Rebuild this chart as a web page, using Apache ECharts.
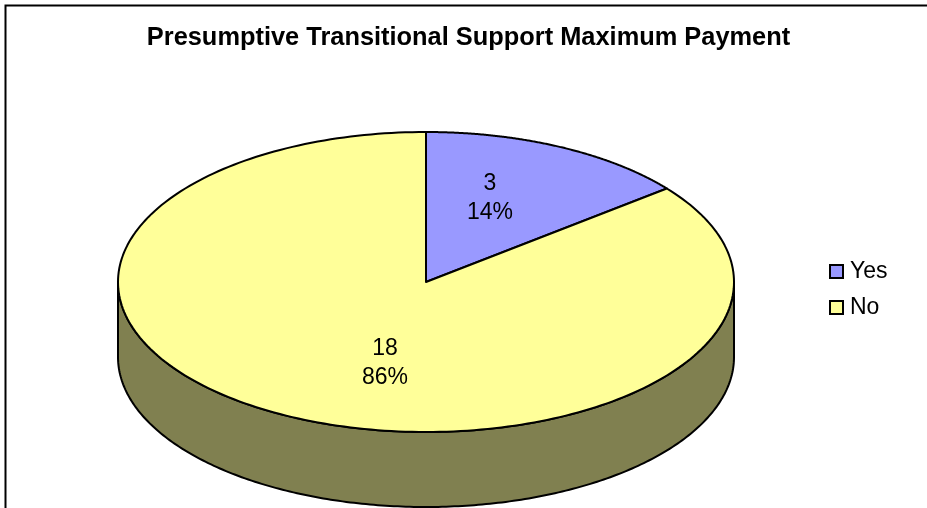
<!DOCTYPE html>
<html>
<head>
<meta charset="utf-8">
<title>Presumptive Transitional Support Maximum Payment</title>
<script src="https://cdn.jsdelivr.net/npm/echarts@6/dist/echarts.min.js"></script>
<style>
  html, body { margin: 0; padding: 0; background: #fff; }
  #chart { width: 927px; height: 508px; }
</style>
</head>
<body>
<div id="chart"></div>
<script>
var titleText = 'Presumptive Transitional Support Maximum Payment';
var categories = ['Yes', 'No'];
var values = [3, 18];
var colors = ['#9999ff', '#ffff99'];
var wallColor = '#808050';

var total = values[0] + values[1];
var cx = 426, cy = 282, rx = 308, ry = 150, depth = 75;
// label centres, by slice
var labelPos = [[490, 198], [385, 363]];

function ellipsePoint(angle, dy) {
    // angle runs clockwise from 12 o'clock
    return [cx + rx * Math.sin(angle), cy + (dy || 0) - ry * Math.cos(angle)];
}

function sliceAngles(index) {
    var before = 0;
    for (var i = 0; i < index; i++) before += values[i];
    return [before / total * Math.PI * 2, (before + values[index]) / total * Math.PI * 2];
}

function renderSlice(params, api) {
    var a = sliceAngles(params.seriesIndex - 1);
    var pts = [[cx, cy]];
    var steps = 240;
    for (var i = 0; i <= steps; i++) {
        pts.push(ellipsePoint(a[0] + (a[1] - a[0]) * i / steps));
    }
    var v = api.value(0);
    return {
        type: 'group',
        children: [{
            type: 'polygon',
            shape: { points: pts },
            style: { fill: colors[params.seriesIndex - 1], stroke: '#000', lineWidth: 2, lineJoin: 'round' }
        }, {
            type: 'text',
            z2: 10,
            style: {
                x: labelPos[params.seriesIndex - 1][0],
                y: labelPos[params.seriesIndex - 1][1],
                text: v + '\n' + Math.round(v / total * 100) + '%',
                fill: '#000',
                font: '23px "Liberation Sans", Arial, sans-serif',
                lineHeight: 29,
                align: 'center',
                verticalAlign: 'middle'
            }
        }]
    };
}

// side of the disc, only the front half is visible
function renderWall() {
    var pts = [];
    var steps = 240, i;
    for (i = 0; i <= steps; i++) pts.push(ellipsePoint(Math.PI / 2 + Math.PI * i / steps, depth));
    for (i = steps; i >= 0; i--) pts.push(ellipsePoint(Math.PI / 2 + Math.PI * i / steps));
    return {
        type: 'polygon',
        shape: { points: pts },
        style: { fill: wallColor, stroke: '#000', lineWidth: 2, lineJoin: 'round' }
    };
}

var myChart = echarts.init(document.getElementById('chart'));

var series = [{
    name: 'wall',
    type: 'custom',
    coordinateSystem: 'none',
    renderItem: renderWall,
    data: [0],
    silent: true
}];
categories.forEach(function (name, i) {
    series.push({
        name: name,
        type: 'custom',
        coordinateSystem: 'none',
        renderItem: renderSlice,
        itemStyle: { color: colors[i] },
        data: [values[i]]
    });
});

var option = {
    animation: false,
    backgroundColor: '#fff',
    title: {
        text: titleText,
        left: 463.5,
        top: 20,
        textAlign: 'center',
        textStyle: {
            color: '#000',
            fontFamily: '"Liberation Sans", Arial, sans-serif',
            fontWeight: 'bold',
            fontSize: 25.4
        }
    },
    legend: {
        data: categories,
        orient: 'vertical',
        left: 829,
        top: 260,
        padding: 0,
        itemWidth: 13,
        itemHeight: 13,
        itemGap: 13,
        icon: 'rect',
        selectedMode: false,
        itemStyle: { borderColor: '#000', borderWidth: 2 },
        textStyle: {
            color: '#000',
            fontFamily: '"Liberation Sans", Arial, sans-serif',
            fontSize: 23,
            padding: [0, 0, 0, 2]
        }
    },
    graphic: [{
        type: 'polyline',
        shape: { points: [[5.5, 520], [5.5, 5.5], [940, 5.5]] },
        style: { fill: null, stroke: '#000', lineWidth: 2 },
        silent: true
    }],
    series: series
};

myChart.setOption(option);
window.addEventListener('resize', function () {
    myChart.resize();
});
</script>
</body>
</html>
